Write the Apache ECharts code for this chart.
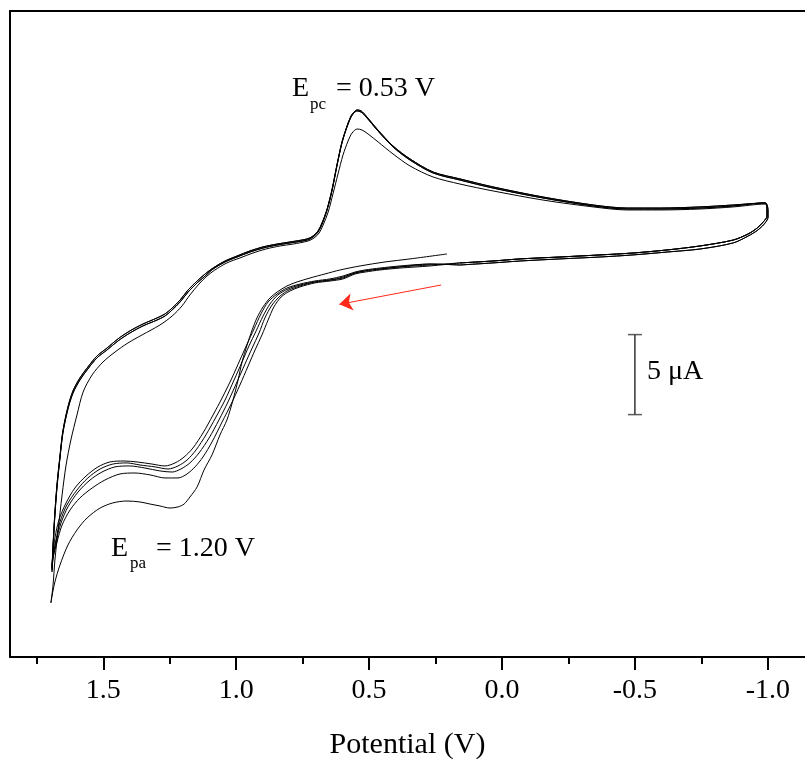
<!DOCTYPE html>
<html><head><meta charset="utf-8">
<script src="https://cdn.jsdelivr.net/npm/echarts@6/dist/echarts.min.js"></script>
<style>html,body{margin:0;padding:0;background:#fff}#c{width:805px;height:763px}</style>
</head><body><div id="c"></div><script>
// Tick positions (V)
const majorTicks = [1.5, 1.0, 0.5, 0.0, -0.5, -1.0];
const minorTicks = [1.75, 1.25, 0.75, 0.25, -0.25, -0.75];

// [potential (V), current (µA, arbitrary offset)]
const cycle1Anodic = [[0.207,25.19],[0.346,24.88],[0.440,24.69],[0.534,24.44],[0.609,24.19],[0.666,23.94],[0.722,23.69],[0.771,23.44],[0.809,23.19],[0.846,22.81],[0.873,22.44],[0.899,21.88],[0.922,21.19],[0.940,20.44],[0.959,19.5],[0.978,18.44],[0.993,17.31],[1.012,16.06],[1.035,14.81],[1.061,13.88],[1.091,12.63],[1.121,11.69],[1.147,10.63],[1.174,10.0],[1.196,9.56],[1.219,9.38],[1.249,9.31],[1.287,9.44],[1.324,9.56],[1.362,9.69],[1.411,9.75],[1.464,9.63],[1.512,9.31],[1.561,8.69],[1.599,7.94],[1.633,7.0],[1.663,5.75],[1.682,4.69],[1.693,3.81],[1.697,3.38]];
const cycle1Cathodic = [[1.689,4.5],[1.682,6.06],[1.670,7.94],[1.655,10.13],[1.640,12.0],[1.622,13.56],[1.599,15.13],[1.576,16.56],[1.542,17.63],[1.501,18.44],[1.456,19.06],[1.407,19.63],[1.354,20.13],[1.287,20.75],[1.241,21.31],[1.204,21.94],[1.174,22.63],[1.140,23.31],[1.110,23.81],[1.080,24.19],[1.035,24.63],[0.986,24.94],[0.937,25.25],[0.888,25.5],[0.835,25.69],[0.786,25.81],[0.730,26.0],[0.707,26.19],[0.688,26.5],[0.673,27.0],[0.654,27.81],[0.636,28.94],[0.617,30.19],[0.598,31.38],[0.579,32.25],[0.564,32.75],[0.545,33.0],[0.527,32.94],[0.504,32.69],[0.466,32.19],[0.410,31.44],[0.346,30.69],[0.259,30.0],[0.158,29.56],[0.034,29.13],[-0.154,28.56],[-0.343,28.13],[-0.471,27.94],[-0.595,27.94],[-0.745,28.0],[-0.870,28.13],[-0.990,28.31]];
const cathodicA = [[1.689,6.81],[1.682,8.88],[1.674,10.63],[1.663,12.44],[1.652,14.0],[1.633,15.5],[1.614,16.5],[1.588,17.31],[1.561,17.94],[1.524,18.69],[1.486,19.19],[1.445,19.75],[1.400,20.25],[1.351,20.69],[1.298,21.06],[1.268,21.31],[1.241,21.69],[1.211,22.19],[1.181,22.81],[1.147,23.38],[1.117,23.81],[1.087,24.25],[1.042,24.69],[0.997,25.0],[0.948,25.31],[0.899,25.56],[0.846,25.75],[0.797,25.88],[0.733,26.06],[0.711,26.25],[0.692,26.56],[0.677,27.06],[0.658,27.94],[0.639,29.19],[0.621,30.69],[0.602,32.13],[0.583,33.13],[0.568,33.75],[0.557,34.0],[0.545,34.13],[0.530,34.06],[0.511,33.75],[0.470,32.94],[0.410,31.88],[0.346,31.06],[0.259,30.25],[0.158,29.81],[0.034,29.31],[-0.154,28.69],[-0.343,28.19],[-0.471,28.0],[-0.595,28.0],[-0.745,28.06],[-0.870,28.19],[-0.990,28.38]];
const cathodicB = [[1.689,7.0],[1.682,9.06],[1.674,10.81],[1.663,12.56],[1.652,14.13],[1.633,15.63],[1.614,16.63],[1.588,17.44],[1.561,18.06],[1.524,18.81],[1.486,19.31],[1.445,19.88],[1.400,20.38],[1.351,20.81],[1.298,21.19],[1.268,21.44],[1.241,21.81],[1.211,22.31],[1.181,22.94],[1.147,23.5],[1.117,23.94],[1.087,24.31],[1.042,24.75],[0.997,25.06],[0.948,25.38],[0.899,25.63],[0.846,25.81],[0.797,25.94],[0.733,26.13],[0.711,26.31],[0.692,26.63],[0.677,27.13],[0.658,28.0],[0.639,29.25],[0.621,30.75],[0.602,32.19],[0.583,33.19],[0.568,33.81],[0.557,34.06],[0.545,34.19],[0.530,34.13],[0.511,33.81],[0.470,33.0],[0.410,31.94],[0.346,31.13],[0.259,30.31],[0.158,29.88],[0.034,29.38],[-0.154,28.75],[-0.343,28.25],[-0.471,28.06],[-0.595,28.06],[-0.745,28.13],[-0.870,28.25],[-0.990,28.38]];
const returnA = [[-0.997,27.94],[-0.997,27.56],[-0.986,27.25],[-0.960,26.81],[-0.926,26.44],[-0.870,26.06],[-0.745,25.69],[-0.621,25.44],[-0.493,25.25],[-0.369,25.13],[-0.218,25.0],[-0.068,24.88],[0.034,24.75],[0.158,24.63]];
const returnB = [[-1.001,27.88],[-1.001,27.5],[-0.990,27.13],[-0.963,26.69],[-0.926,26.31],[-0.870,25.88],[-0.745,25.5],[-0.621,25.31],[-0.493,25.13],[-0.369,25.0],[-0.218,24.88],[-0.068,24.75],[0.034,24.63],[0.158,24.5]];
const cycle2Anodic = [[0.158,24.63],[0.271,24.44],[0.384,24.31],[0.459,24.19],[0.515,24.06],[0.553,23.94],[0.598,23.63],[0.647,23.5],[0.704,23.38],[0.760,23.13],[0.797,22.88],[0.831,22.5],[0.858,21.88],[0.880,21.06],[0.903,20.13],[0.929,19.19],[0.955,18.19],[0.986,17.0],[1.019,15.81],[1.053,14.69],[1.091,13.44],[1.125,12.5],[1.155,11.88],[1.185,11.44],[1.219,11.19],[1.268,11.19],[1.324,11.38],[1.381,11.5],[1.437,11.44],[1.494,11.06],[1.542,10.56],[1.588,9.94],[1.625,9.19],[1.655,8.25],[1.674,7.19],[1.689,6.19],[1.693,5.44]];
const cycle3Anodic = [[0.158,24.5],[0.271,24.56],[0.384,24.38],[0.459,24.25],[0.515,24.13],[0.553,24.0],[0.598,23.69],[0.647,23.56],[0.704,23.44],[0.760,23.19],[0.801,22.94],[0.835,22.56],[0.865,22.0],[0.892,21.19],[0.914,20.25],[0.940,19.31],[0.967,18.31],[0.997,17.19],[1.031,15.94],[1.065,14.81],[1.102,13.69],[1.140,12.75],[1.174,12.13],[1.208,11.75],[1.241,11.56],[1.287,11.63],[1.343,11.81],[1.400,11.94],[1.456,11.88],[1.505,11.56],[1.550,11.06],[1.595,10.31],[1.633,9.38],[1.659,8.38],[1.678,7.19],[1.689,6.19],[1.693,5.31]];
const cycle4Anodic = [[0.158,24.63],[0.271,24.5],[0.384,24.38],[0.459,24.25],[0.515,24.13],[0.553,24.0],[0.598,23.75],[0.647,23.56],[0.704,23.44],[0.760,23.25],[0.805,23.0],[0.843,22.63],[0.873,22.06],[0.899,21.31],[0.925,20.38],[0.952,19.44],[0.978,18.44],[1.008,17.31],[1.042,16.06],[1.076,15.0],[1.114,13.88],[1.151,12.94],[1.185,12.31],[1.219,11.94],[1.257,11.75],[1.305,11.88],[1.362,12.0],[1.411,12.13],[1.464,12.06],[1.512,11.75],[1.558,11.19],[1.599,10.44],[1.637,9.5],[1.663,8.44],[1.678,7.31],[1.689,6.31],[1.693,5.56]];
const cycle5Anodic = [[0.158,24.5],[0.271,24.56],[0.384,24.44],[0.459,24.31],[0.515,24.19],[0.553,24.06],[0.598,23.81],[0.647,23.63],[0.704,23.5],[0.760,23.31],[0.809,23.06],[0.846,22.69],[0.880,22.19],[0.907,21.44],[0.933,20.5],[0.959,19.56],[0.986,18.56],[1.016,17.44],[1.053,16.19],[1.087,15.13],[1.125,14.0],[1.163,13.06],[1.196,12.5],[1.230,12.13],[1.268,11.94],[1.317,12.06],[1.373,12.19],[1.422,12.25],[1.475,12.19],[1.520,11.88],[1.565,11.31],[1.607,10.56],[1.640,9.63],[1.667,8.56],[1.682,7.44],[1.689,6.44],[1.693,5.69]];

// Scale bar (5 µA) and scan-direction arrow
const scaleBar = [[-0.5,15.15],[-0.5,20.15]];
const scanArrow = [[0.229,23.25],[0.612,22.04]];

const cycles = [
  cycle1Anodic.concat(cycle1Cathodic, returnA),
  cycle2Anodic.concat(cathodicA, returnB),
  cycle3Anodic.concat(cathodicB, returnA),
  cycle4Anodic.concat(cathodicA, returnB),
  cycle5Anodic.concat(cathodicB, returnA)
];

const FONT = '"Liberation Serif", "Times New Roman", serif';
const chart = echarts.init(document.getElementById('c'), null, {renderer: 'canvas'});

const xBase = {type: 'value', inverse: true, min: -1.140, max: 1.851, gridIndex: 0, splitLine: {show: false}};

const option = {
  animation: false,
  backgroundColor: '#fff',
  grid: {left: 10, right: 0, top: 11, bottom: 106, show: false, containLabel: false, outerBoundsMode: 'none'},
  xAxis: [
    Object.assign({}, xBase, {
      position: 'bottom',
      axisLine: {show: true, onZero: false, lineStyle: {color: '#000', width: 2}},
      axisTick: {show: true, customValues: majorTicks, length: 13, lineStyle: {color: '#000', width: 2}},
      axisLabel: {show: true, customValues: majorTicks, formatter: v => Number(v).toFixed(1), fontFamily: FONT, fontSize: 28, color: '#000', margin: 20},
      name: 'Potential (V)', nameLocation: 'middle', nameGap: 73,
      nameTextStyle: {fontFamily: FONT, fontSize: 30, color: '#000'}
    }),
    Object.assign({}, xBase, {
      position: 'bottom', offset: 0,
      axisLine: {show: false, onZero: false},
      axisTick: {show: true, customValues: minorTicks, length: 7, lineStyle: {color: '#000', width: 2}},
      axisLabel: {show: false}
    }),
    Object.assign({}, xBase, {
      position: 'top', offset: 0,
      axisLine: {show: true, onZero: false, lineStyle: {color: '#000', width: 2}},
      axisTick: {show: false},
      axisLabel: {show: false}
    })
  ],
  yAxis: {type: 'value', min: 0, max: 40.375, position: 'left',
    axisLine: {show: true, onZero: false, lineStyle: {color: '#000', width: 2}},
    axisTick: {show: false}, axisLabel: {show: false}, splitLine: {show: false}},
  series: cycles.map((d, i) => ({
    type: 'line', name: 'cycle ' + (i + 1), data: d, xAxisIndex: 0,
    showSymbol: false, symbol: 'none', smooth: 0.3, silent: true,
    lineStyle: {color: '#000', width: 1}
  })).concat([
    {type: 'line', data: scaleBar, symbol: 'none', silent: true, lineStyle: {color: '#333', width: 1.5}},
    {type: 'scatter', data: scaleBar, symbol: 'rect', symbolSize: [14, 1.5], silent: true, itemStyle: {color: '#333'}},
    {type: 'lines', coordinateSystem: 'cartesian2d', silent: true,
     symbol: ['none', 'arrow'], symbolSize: 13,
     lineStyle: {color: '#ff2a1a', width: 1, opacity: 1},
     data: [{coords: scanArrow}]}
  ]),
  graphic: [
    {type: 'text', x: 292, y: 89, style: {text: 'E', font: '28px ' + FONT, fill: '#000', verticalAlign: 'middle'}},
    {type: 'text', x: 310, y: 105, style: {text: 'pc', font: '17px ' + FONT, fill: '#000', verticalAlign: 'middle'}},
    {type: 'text', x: 336, y: 89, style: {text: '= 0.53 V', font: '28px ' + FONT, fill: '#000', verticalAlign: 'middle'}},
    {type: 'text', x: 111, y: 549, style: {text: 'E', font: '28px ' + FONT, fill: '#000', verticalAlign: 'middle'}},
    {type: 'text', x: 130, y: 564, style: {text: 'pa', font: '17px ' + FONT, fill: '#000', verticalAlign: 'middle'}},
    {type: 'text', x: 156, y: 549, style: {text: '= 1.20 V', font: '28px ' + FONT, fill: '#000', verticalAlign: 'middle'}},
    {type: 'text', x: 647, y: 372, style: {text: '5 μA', font: '28px ' + FONT, fill: '#000', verticalAlign: 'middle'}}
  ]
};
chart.setOption(option);
</script></body></html>
